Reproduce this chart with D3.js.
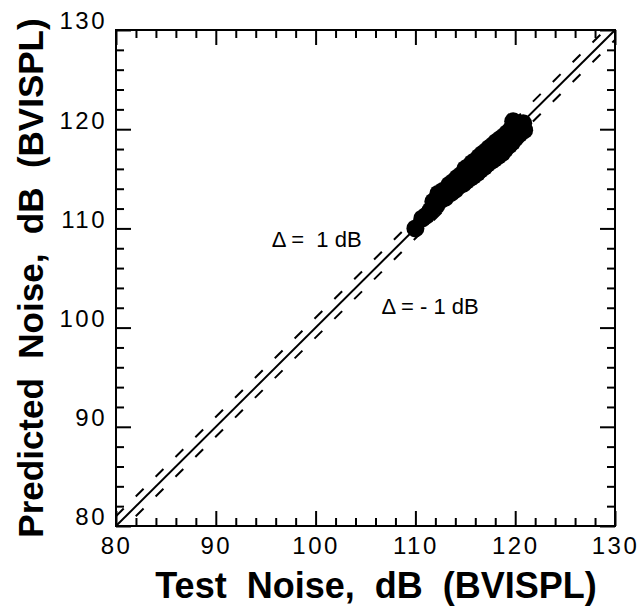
<!DOCTYPE html>
<html>
<head>
<meta charset="utf-8">
<script src="https://cdn.jsdelivr.net/npm/d3@7"></script>
<style>
  body { margin: 0; background: #fff; }
  svg { display: block; font-family: "Liberation Sans", Arial, Helvetica, sans-serif; }
</style>
</head>
<body>
<svg id="chart" width="641" height="607"></svg>
<script>
// DATA
const testNoise = [
  110.0, 110.7, 111.1, 111.5, 111.8, 112.1, 112.3, 112.6, 112.8, 113.0,
  113.2, 113.4, 113.6, 113.8, 114.0, 114.2, 114.4, 114.6, 114.8, 115.0,
  115.1, 115.3, 115.5, 115.7, 115.8, 116.0, 116.2, 116.4, 116.5, 116.7,
  116.9, 117.1, 117.2, 117.4, 117.6, 117.8, 117.9, 118.1, 118.3, 118.5,
  118.7, 118.9, 119.0, 119.2, 119.4, 119.6, 119.7, 119.9, 120.0, 120.2,
  120.4, 120.6, 120.9, 119.8, 120.8
];
const predictedNoise = [
  110.0, 111.0, 111.3, 111.8, 112.7, 112.3, 113.5, 112.9, 113.8, 113.1,
  113.4, 114.4, 113.6, 114.7, 113.9, 115.1, 114.3, 115.4, 114.5, 116.0,
  114.8, 116.2, 115.1, 116.6, 115.3, 116.8, 115.6, 117.2, 115.9, 117.5,
  116.2, 117.8, 116.5, 118.1, 116.8, 118.4, 117.0, 118.7, 117.3, 119.0,
  117.6, 119.3, 118.0, 119.6, 118.4, 120.0, 118.7, 120.4, 119.1, 120.6,
  119.5, 120.3, 119.9, 120.8, 120.6
];
const axisDomain = [80, 130];
const majorTicks = [80, 90, 100, 110, 120, 130];
const minorTicks = [82, 84, 86, 88, 92, 94, 96, 98, 102, 104, 106, 108,
  112, 114, 116, 118, 122, 124, 126, 128];
const deltaOffsets = [1, -1];
const annotations = [
  { text: "\u0394 =  1 dB", x: 95.6, y: 108.1 },
  { text: "\u0394 = - 1 dB", x: 106.6, y: 101.4 }
];
const xTitle = "Test  Noise,  dB  (BVISPL)";
const yTitle = "Predicted  Noise,  dB  (BVISPL)";

// CANVAS SETUP
const svg = d3.select("#chart");
const margin = { top: 30, right: 26, bottom: 81, left: 116 };
const width = +svg.attr("width") - margin.left - margin.right,
  height = +svg.attr("height") - margin.top - margin.bottom;

const xScale = d3.scaleLinear().domain(axisDomain).range([margin.left, margin.left + width]);
const yScale = d3.scaleLinear().domain(axisDomain).range([margin.top + height, margin.top]);

svg.append("defs").append("clipPath").attr("id", "plotClip")
  .append("rect")
  .attr("x", margin.left).attr("y", margin.top)
  .attr("width", width).attr("height", height);

// identity and +/- 1 dB lines
const lineGroup = svg.append("g").attr("clip-path", "url(#plotClip)");
lineGroup.append("line")
  .attr("x1", xScale(axisDomain[0])).attr("y1", yScale(axisDomain[0]))
  .attr("x2", xScale(axisDomain[1])).attr("y2", yScale(axisDomain[1]))
  .attr("stroke", "#000").attr("stroke-width", 2);

lineGroup.selectAll("line.delta")
  .data(deltaOffsets)
  .join("line")
  .attr("class", "delta")
  .attr("x1", xScale(axisDomain[0] - 2)).attr("y1", (d) => yScale(axisDomain[0] - 2 + d))
  .attr("x2", xScale(axisDomain[1] + 2)).attr("y2", (d) => yScale(axisDomain[1] + 2 + d))
  .attr("stroke", "#000").attr("stroke-width", 2)
  .attr("stroke-dasharray", "11,17");

// points
svg.append("g")
  .selectAll("circle")
  .data(testNoise.map((t, i) => ({ t: t, p: predictedNoise[i] })))
  .join("circle")
  .attr("cx", (d) => xScale(d.t))
  .attr("cy", (d) => yScale(d.p))
  .attr("r", 9)
  .attr("fill", "#000");

// AXES (ticks point inward on all four sides)
function styleAxis(g) {
  g.select(".domain").remove();
  g.selectAll("line").attr("stroke", "#000").attr("stroke-width", 2);
  g.selectAll("text")
    .attr("fill", "#000")
    .style("font-size", "24px")
    .style("letter-spacing", "2.5px");
  return g;
}

const sides = [
  { axis: d3.axisBottom(xScale), tr: `translate(0,${margin.top + height})`, labels: true, left: false },
  { axis: d3.axisTop(xScale), tr: `translate(0,${margin.top})`, labels: false, left: false },
  { axis: d3.axisLeft(yScale), tr: `translate(${margin.left},0)`, labels: true, left: true },
  { axis: d3.axisRight(yScale), tr: `translate(${margin.left + width},0)`, labels: false, left: false }
];

sides.forEach(function (s) {
  svg.append("g")
    .attr("transform", s.tr)
    .call(s.axis.tickValues(minorTicks).tickSize(-8).tickFormat(""))
    .call(styleAxis);
  const g = svg.append("g")
    .attr("transform", s.tr)
    .call(s.axis.tickValues(majorTicks).tickSize(-15).tickPadding(s.left ? 9 : 11)
      .tickFormat(s.labels ? d3.format("d") : ""))
    .call(styleAxis);
  if (s.left) {
    g.selectAll("text").attr("dy", "-0.05em");
  }
});

// frame
svg.append("rect")
  .attr("x", margin.left).attr("y", margin.top)
  .attr("width", width).attr("height", height)
  .attr("fill", "none").attr("stroke", "#000").attr("stroke-width", 2);

// annotations
svg.append("g")
  .selectAll("text")
  .data(annotations)
  .join("text")
  .attr("x", (d) => xScale(d.x))
  .attr("y", (d) => yScale(d.y))
  .style("font-size", "22px")
  .style("white-space", "pre")
  .text((d) => d.text);

// axis titles
svg.append("text")
  .attr("x", 376)
  .attr("y", 598)
  .attr("text-anchor", "middle")
  .style("font-size", "36px")
  .style("font-weight", "bold")
  .style("white-space", "pre")
  .text(xTitle);

svg.append("text")
  .attr("transform", `translate(43,${278}) rotate(-90)`)
  .attr("text-anchor", "middle")
  .style("font-size", "35px")
  .style("font-weight", "bold")
  .style("white-space", "pre")
  .text(yTitle);
</script>
</body>
</html>
